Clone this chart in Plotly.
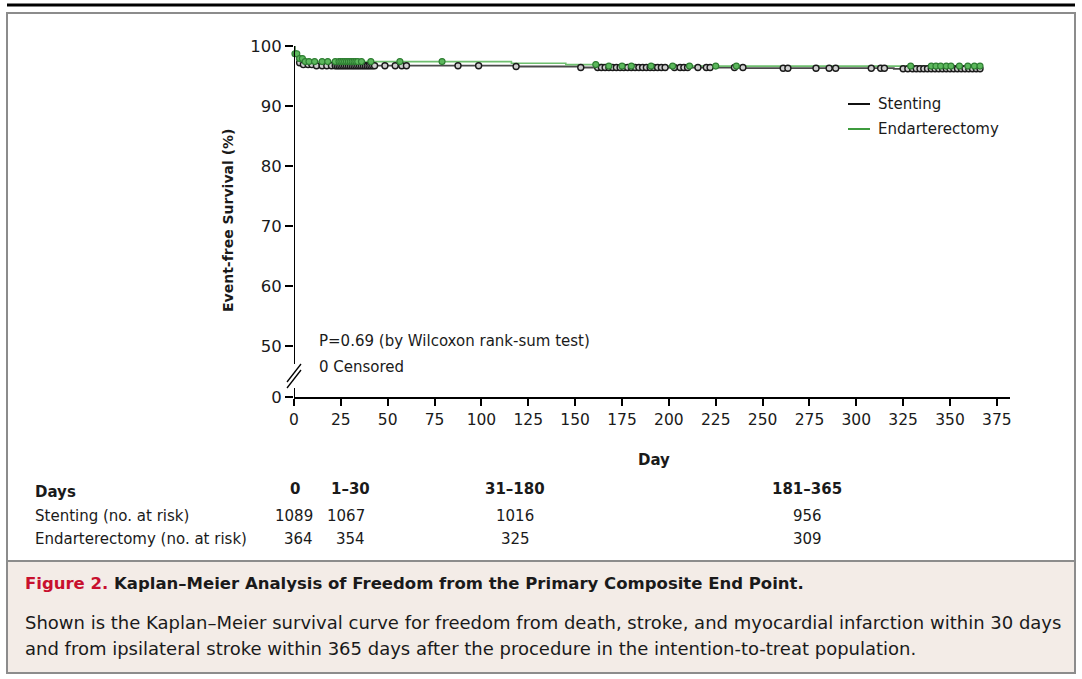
import numpy as np
import plotly.graph_objects as go

# ---------------- data ----------------
stent_event_days = [0, 0.5, 1.5, 2.5, 4, 10, 118, 153, 240, 320]
stent_surv = [100, 98.8, 97.8, 97.2, 96.9, 96.72, 96.58, 96.42, 96.3, 96.2]

endo_event_days = [0, 0.4, 2, 5, 116, 145, 165]
endo_surv = [100, 98.7, 97.9, 97.4, 97.12, 96.9, 96.65]

stent_censor_days = [3, 5, 7.5, 9.5, 12, 15, 17.5, 20, 22, 23, 24, 25, 26, 27, 28, 29, 30,
                     31, 32, 33, 34, 35, 36, 37, 38, 39, 40, 41, 42, 43, 48.5, 54, 57.5, 60,
                     87.5, 98.5, 118.5, 153, 162, 164, 166, 168, 170, 172, 174, 176, 178, 180,
                     182, 184, 186, 188, 190, 192, 194, 196, 198, 203, 206, 208, 210, 215.5,
                     220, 222, 235, 239.5, 261, 263.5, 278.5, 285.5, 289, 308, 313, 315, 325,
                     327.5, 330, 332, 334, 336, 338, 340, 342, 344, 346, 348, 350, 352, 354,
                     356, 358, 360, 362, 364, 366]
endo_censor_days = [0.5, 1.5, 3, 4.5, 6, 8, 11, 15, 18, 22, 24, 25, 26, 27, 28, 29, 30, 31,
                    32, 33, 34, 36, 41, 56.5, 79, 161, 168, 175, 180, 190.5, 202, 211, 225,
                    236, 329, 340, 342.5, 345, 348, 350.5, 355, 359.5, 363, 366]

series_names = ["Stenting", "Endarterectomy"]
x_ticks = list(range(0, 376, 25))
y_tick_vals = [41.5, 50, 60, 70, 80, 90, 100]
y_tick_text = ["0", "50", "60", "70", "80", "90", "100"]

risk_columns = ["0", "1\u201330", "31\u2013180", "181\u2013365"]
stent_at_risk = [1089, 1067, 1016, 956]
endo_at_risk = [364, 354, 325, 309]

p_text = "P=0.69 (by Wilcoxon rank-sum test)"
censor_text = "0 Censored"
caption_title = "Kaplan\u2013Meier Analysis of Freedom from the Primary Composite End Point."
caption_body = ["Shown is the Kaplan\u2013Meier survival curve for freedom from death, stroke, and myocardial infarction within 30 days",
                "and from ipsilateral stroke within 365 days after the procedure in the intention-to-treat population."]

# ---------------- helpers ----------------
W, H = 1082, 679
L, R, T, B = 294, 1010, 46, 397


def PX(px):
    return (px - L) / (R - L)


def PY(py):
    return (B - py) / (B - T)


def step_at(days, ev_days, surv):
    ev = np.asarray(ev_days)
    s = np.asarray(surv)
    idx = np.searchsorted(ev, np.asarray(days), side="right") - 1
    return s[idx]


FONT = "DejaVu Sans"
BLACK_LINE = "#4a4a4a"
GREEN_LINE = "#6fbf6f"

fig = go.Figure()

end_s = max(stent_censor_days)
end_e = max(endo_censor_days)
fig.add_trace(go.Scatter(x=stent_event_days + [end_s], y=stent_surv + [stent_surv[-1]],
                         mode="lines", line=dict(color=BLACK_LINE, width=1.8, shape="hv"),
                         showlegend=False, cliponaxis=False, name=series_names[0]))
fig.add_trace(go.Scatter(x=endo_event_days + [end_e], y=endo_surv + [endo_surv[-1]],
                         mode="lines", line=dict(color=GREEN_LINE, width=1.6, shape="hv"),
                         showlegend=False, cliponaxis=False, name=series_names[1]))
fig.add_trace(go.Scatter(x=stent_censor_days,
                         y=step_at(stent_censor_days, stent_event_days, stent_surv),
                         mode="markers", cliponaxis=False, showlegend=False,
                         marker=dict(symbol="circle", size=6, color="#cfcfcf",
                                     line=dict(color="#1a1a1a", width=1.4))))
fig.add_trace(go.Scatter(x=endo_censor_days,
                         y=step_at(endo_censor_days, endo_event_days, endo_surv),
                         mode="markers", cliponaxis=False, showlegend=False,
                         marker=dict(symbol="circle", size=6, color="#5cb85c",
                                     line=dict(color="#2e7d32", width=1.1))))

shapes = []
# frame & caption box
shapes.append(dict(type="rect", xref="paper", yref="paper", x0=PX(7), x1=PX(1075), y0=PY(13), y1=PY(561),
                   line=dict(color="#8c8c8c", width=2), fillcolor="white", layer="below"))
shapes.append(dict(type="rect", xref="paper", yref="paper", x0=PX(7), x1=PX(1075), y0=PY(561), y1=PY(673),
                   line=dict(color="#8c8c8c", width=2), fillcolor="#f3ece7", layer="below"))
shapes.append(dict(type="line", xref="paper", yref="paper", x0=PX(7), x1=PX(1075), y0=PY(5), y1=PY(5),
                   line=dict(color="black", width=3)))
# y axis with break
shapes.append(dict(type="line", xref="x", yref="y", x0=0, x1=0, y0=100, y1=41.5 + (B - 364) / 6,
                   line=dict(color="black", width=2)))
shapes.append(dict(type="line", xref="x", yref="y", x0=0, x1=0, y0=41.5 + (B - 388) / 6, y1=41.5,
                   line=dict(color="black", width=2)))
shapes.append(dict(type="line", xref="paper", yref="paper", x0=PX(287), x1=PX(301), y0=PY(382), y1=PY(364),
                   line=dict(color="black", width=1.3)))
shapes.append(dict(type="line", xref="paper", yref="paper", x0=PX(287), x1=PX(301), y0=PY(388), y1=PY(370),
                   line=dict(color="black", width=1.3)))
# legend samples
shapes.append(dict(type="line", xref="paper", yref="paper", x0=PX(848), x1=PX(870), y0=PY(104), y1=PY(104),
                   line=dict(color="#111111", width=2)))
shapes.append(dict(type="line", xref="paper", yref="paper", x0=PX(848), x1=PX(870), y0=PY(129), y1=PY(129),
                   line=dict(color="#3d9b3d", width=2)))

ann = []


def text(px, py, s, size=15, anchor="left", bold=False, color="#1a1a1a", angle=0):
    ann.append(dict(xref="paper", yref="paper", x=PX(px), y=PY(py), text=("<b>%s</b>" % s) if bold else s,
                    showarrow=False, xanchor=anchor, yanchor="middle", textangle=angle,
                    font=dict(family=FONT, size=size, color=color)))


text(876, 104, series_names[0], size=15)
text(876, 129, series_names[1], size=15)
text(317, 341, p_text, size=15)
text(317, 367, censor_text, size=15)
text(228, 221, "Event-free Survival (%)", size=14, anchor="center", bold=True, angle=-90)
text(654, 460, "Day", size=15, anchor="center", bold=True)

# at-risk table
text(33, 492, "Days", size=15, bold=True)
text(33, 516, series_names[0] + " (no. at risk)", size=15)
text(33, 539, series_names[1] + " (no. at risk)", size=15)
col_x = [295, 350, 515, 807]
num_right = [315, 367, None, None]
for i, c in enumerate(risk_columns):
    text(col_x[i], 489, c, size=15, anchor="center", bold=True)
    for row_y, vals in ((516, stent_at_risk), (539, endo_at_risk)):
        if num_right[i] is not None:
            text(num_right[i], row_y, str(vals[i]), size=15, anchor="right")
        else:
            text(col_x[i], row_y, str(vals[i]), size=15, anchor="center")

# caption
ann.append(dict(xref="paper", yref="paper", x=PX(23), y=PY(583), xanchor="left", yanchor="middle",
                showarrow=False,
                text="<b><span style='color:#c8102e'>Figure 2.</span> %s</b>" % caption_title,
                font=dict(family=FONT, size=16.5, color="#1a1a1a")))
text(23, 622, caption_body[0], size=18)
text(23, 648, caption_body[1], size=18)

fig.update_layout(
    width=W, height=H, margin=dict(l=L, r=W - R, t=T, b=H - B, pad=0),
    paper_bgcolor="white", plot_bgcolor="white",
    font=dict(family=FONT, size=15, color="#1a1a1a"),
    shapes=shapes, annotations=ann, showlegend=False,
    xaxis=dict(range=[0, 382], showline=True, linecolor="black", linewidth=2, ticks="outside",
               ticklen=7, tickwidth=2, tickcolor="black", tickvals=x_ticks, showgrid=False,
               zeroline=False, tickfont=dict(family=FONT, size=15.5, color="#1a1a1a")),
    yaxis=dict(range=[41.5, 100], showline=False, ticks="outside", ticklen=8, tickwidth=2,
               tickcolor="black", tickvals=y_tick_vals, ticktext=y_tick_text, showgrid=False,
               zeroline=False, tickfont=dict(family=FONT, size=16.5, color="#1a1a1a")),
)

fig.write_html("out.html", config={"displayModeBar": False},
               post_script="document.body.style.margin='0';")
